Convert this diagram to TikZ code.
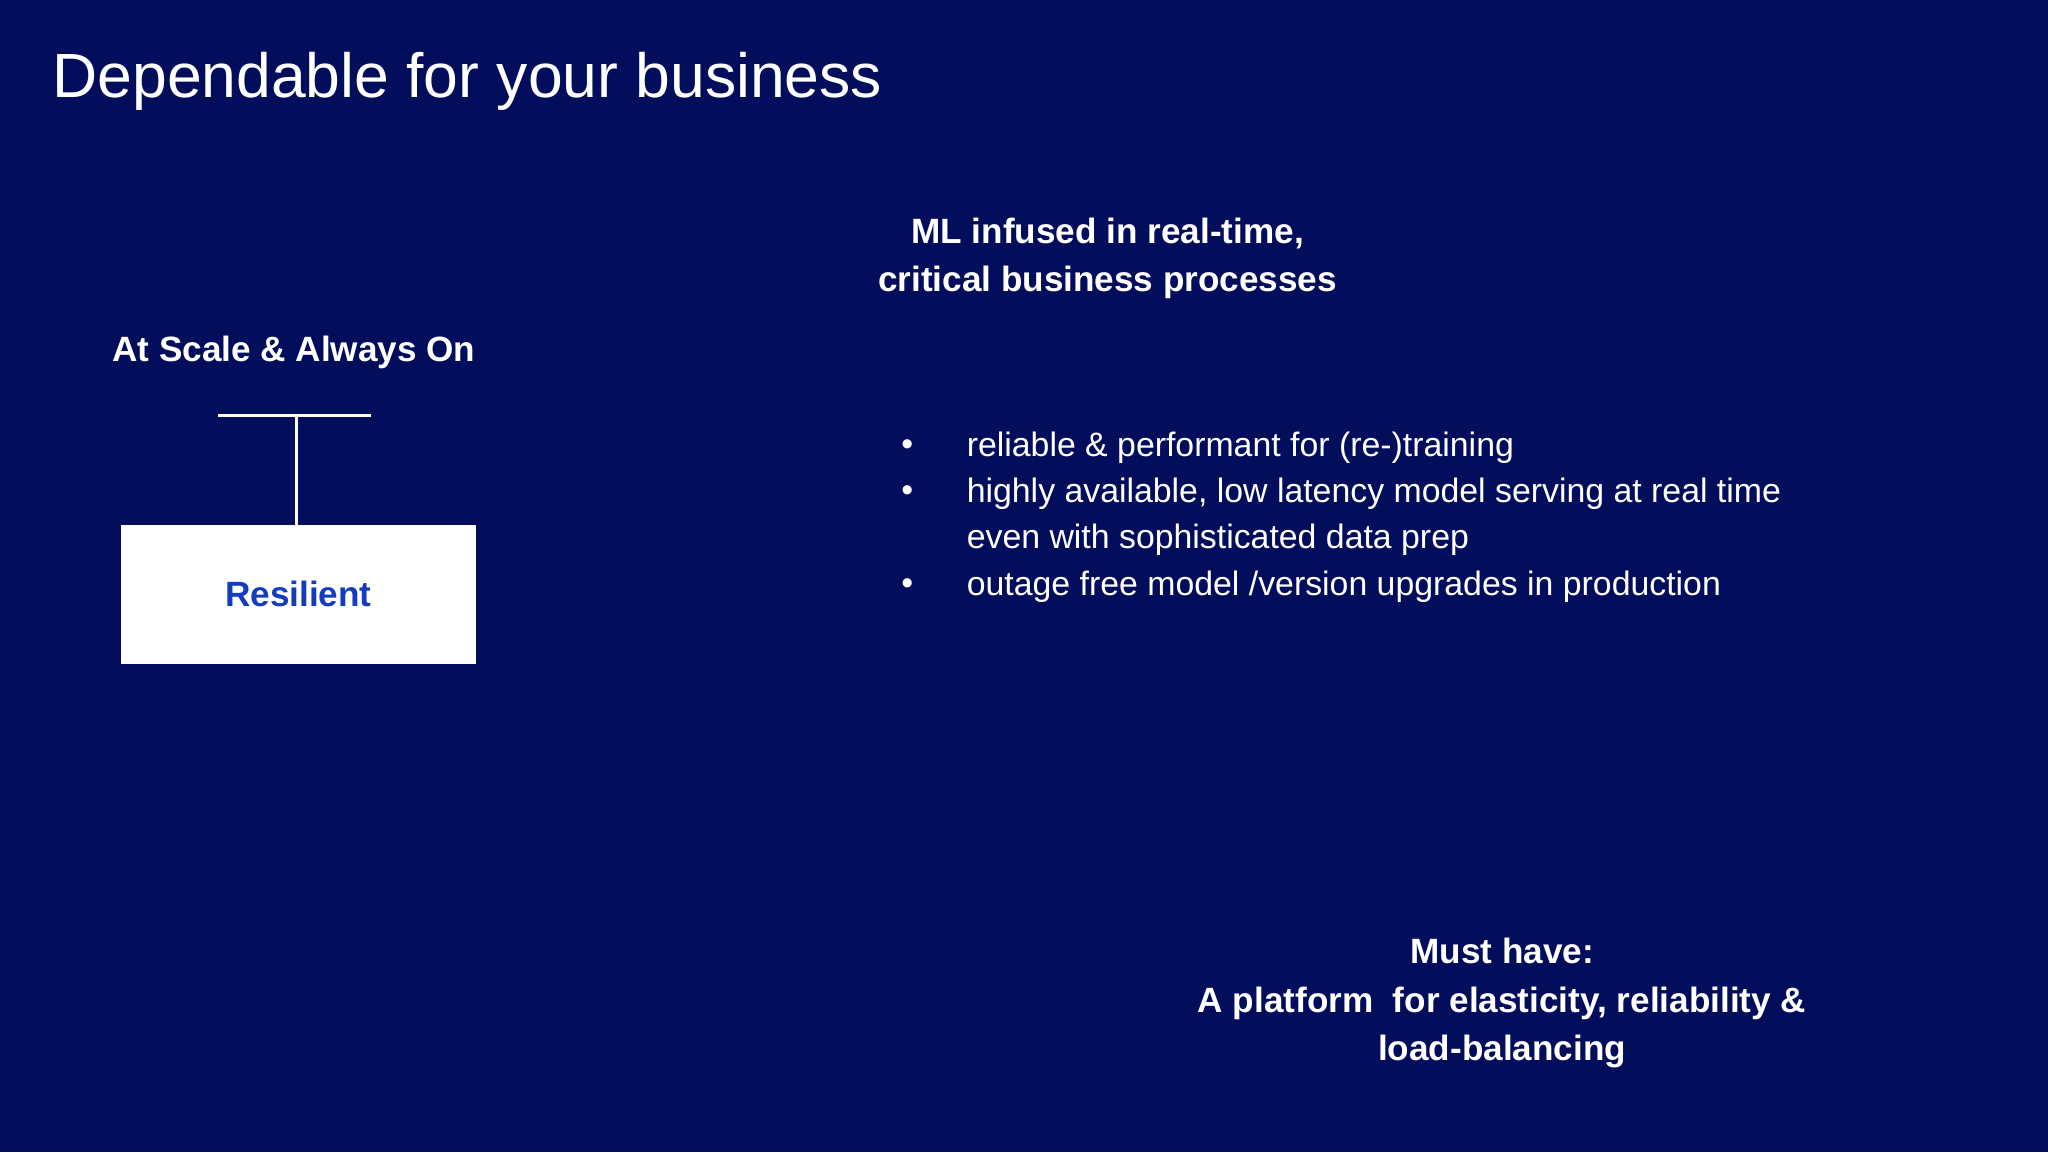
\documentclass[tikz,border=0pt]{standalone}
\usepackage{fontspec}
\setmainfont{Liberation Sans}
\begin{document}
\begin{tikzpicture}[x=1bp,y=-1bp,
  wt/.style={text=white,inner sep=0pt},
  hd/.style={wt,font=\fontsize{27}{37}\selectfont\bfseries,align=center},
  bl/.style={wt,font=\fontsize{26}{35}\selectfont,anchor=west}]
\fill[fill={rgb,255:red,2;green,14;blue,92}] (0,0) rectangle (1568,882);
\useasboundingbox (0,0) rectangle (1568,882);
\node[wt,anchor=west,font=\fontsize{48}{56}\selectfont] (title) at (40,62) {Dependable for your business};
\node[hd] (ml) at (848,198) {ML infused in real-time,\\critical business processes};
\node[hd] (scale) at (225,270) {At Scale \& Always On};
\coordinate (tl) at (167,318); \coordinate (tr) at (284,318); \coordinate (tm) at (227,318);
\node[draw=white,fill=white,minimum width=271bp,minimum height=106bp,inner sep=0pt,text={rgb,255:red,20;green,60;blue,190},font=\fontsize{27}{32}\selectfont\bfseries] (res) at (228.5,455) {Resilient};
\draw[white,line width=2.5bp] (tl) -- (tr);
\draw[white,line width=2.5bp] (tm) -- (tm |- res.north);
\node[bl] (b1d) at (690,343) {•}; \node[bl] (b1) at (740,343) {reliable \& performant for (re-)training};
\node[bl] (b2d) at (690,378) {•}; \node[bl] (b2) at (740,378) {highly available, low latency model serving at real time};
\node[bl] (b2b) at (740,413) {even with sophisticated data prep};
\node[bl] (b3d) at (690,449) {•}; \node[bl] (b3) at (740,449) {outage free model /version upgrades in production};
\node[hd] (must) at (1150,768) {Must have:\\A platform\ \ for elasticity, reliability \&\\load-balancing};
\end{tikzpicture}
\end{document}
